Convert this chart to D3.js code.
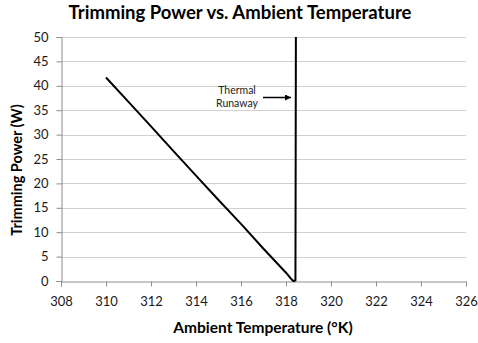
<!DOCTYPE html>
<html>
<head>
<meta charset="utf-8">
<script src="https://cdn.jsdelivr.net/npm/d3@7"></script>
<style>
  body { margin: 0; background: #fff; }
  svg { font-family: Lato, "Open Sans", sans-serif; }
</style>
</head>
<body>
<svg width="478" height="343"></svg>
<script>
// curve
const temps = [310, 311, 312, 313, 314, 315, 316, 317, 318, 318.2, 318.32, 318.42, 318.43, 318.44];
const power = [41.7, 36.7, 31.7, 26.6, 21.6, 16.6, 11.7, 6.6, 1.7, 0.6, 0, 0.1, 25, 52];
const xTicks = [308, 310, 312, 314, 316, 318, 320, 322, 324, 326];
const yTicks = [0, 5, 10, 15, 20, 25, 30, 35, 40, 45, 50];

const svg = d3.select('svg');
const margin = { top: 37, right: 12, bottom: 62, left: 61 };
const width = 466 - margin.left;
const height = 281 - margin.top;
const g = svg.append('g').attr('transform', 'translate(' + margin.left + ',' + margin.top + ')');

const x = d3.scaleLinear().domain([308, 326]).range([0, width]);
const y = d3.scaleLinear().domain([0, 50]).range([height, 0]);

// grid
g.append('g')
  .selectAll('line')
  .data(yTicks.filter(d => d > 0))
  .enter()
  .append('line')
  .attr('x1', 0)
  .attr('x2', width)
  .attr('y1', d => Math.round(y(d)) + 0.5)
  .attr('y2', d => Math.round(y(d)) + 0.5)
  .attr('stroke', '#d0d0d0')
  .attr('stroke-width', 1);

// axes
const xAxis = g.append('g')
  .attr('transform', 'translate(0,' + (height + 0.5) + ')')
  .call(d3.axisBottom(x).tickValues(xTicks).tickSize(5).tickPadding(10).tickFormat(d3.format('d')));
const yAxis = g.append('g')
  .attr('transform', 'translate(0.5,0)')
  .call(d3.axisLeft(y).tickValues(yTicks).tickSize(5).tickPadding(8));

[xAxis, yAxis].forEach(a => {
  a.select('.domain').attr('stroke', '#8c8c8c');
  a.selectAll('.tick line').attr('stroke', '#8c8c8c');
  a.selectAll('.tick text')
    .attr('fill', '#1a1a1a')
    .style('font-size', '13px')
    .style('font-family', 'Lato, "Open Sans", sans-serif');
});

// clip to plot area
svg.append('clipPath').attr('id', 'clip')
  .append('rect').attr('x', 0).attr('y', 0).attr('width', width).attr('height', height + 2);

const line = d3.line()
  .x((d, i) => x(temps[i]))
  .y(d => y(d));

g.append('path')
  .datum(power)
  .attr('clip-path', 'url(#clip)')
  .attr('fill', 'none')
  .attr('stroke', '#000')
  .attr('stroke-width', 2)
  .attr('stroke-linejoin', 'round')
  .attr('d', line);

// annotation
const defs = svg.append('defs');
defs.append('marker')
  .attr('id', 'arrow')
  .attr('viewBox', '0 0 10 10')
  .attr('refX', 10)
  .attr('refY', 5)
  .attr('markerWidth', 4)
  .attr('markerHeight', 4)
  .attr('orient', 'auto')
  .append('path')
  .attr('d', 'M0,0 L10,5 L0,10 Z')
  .attr('fill', '#000');

svg.append('text')
  .attr('x', 237).attr('y', 94)
  .attr('text-anchor', 'middle')
  .style('font-size', '10.5px')
  .attr('fill', '#222')
  .text('Thermal');
svg.append('text')
  .attr('x', 237).attr('y', 107)
  .attr('text-anchor', 'middle')
  .style('font-size', '10.5px')
  .attr('fill', '#222')
  .text('Runaway');
svg.append('line')
  .attr('x1', 263).attr('x2', 291)
  .attr('y1', 97.5).attr('y2', 97.5)
  .attr('stroke', '#000')
  .attr('stroke-width', 1.5)
  .attr('marker-end', 'url(#arrow)');

// titles
svg.append('text')
  .attr('x', 240).attr('y', 19)
  .attr('text-anchor', 'middle')
  .style('font-size', '18.5px')
  .style('font-weight', 'bold')
  .attr('fill', '#000')
  .text('Trimming Power vs. Ambient Temperature');

svg.append('text')
  .attr('x', 263).attr('y', 333)
  .attr('text-anchor', 'middle')
  .style('font-size', '15.5px')
  .style('font-weight', 'bold')
  .attr('fill', '#000')
  .text('Ambient Temperature (°K)');

svg.append('text')
  .attr('transform', 'translate(22,170) rotate(-90)')
  .attr('text-anchor', 'middle')
  .style('font-size', '14.5px')
  .style('font-weight', 'bold')
  .attr('fill', '#000')
  .text('Trimming Power (W)');
</script>
</body>
</html>
